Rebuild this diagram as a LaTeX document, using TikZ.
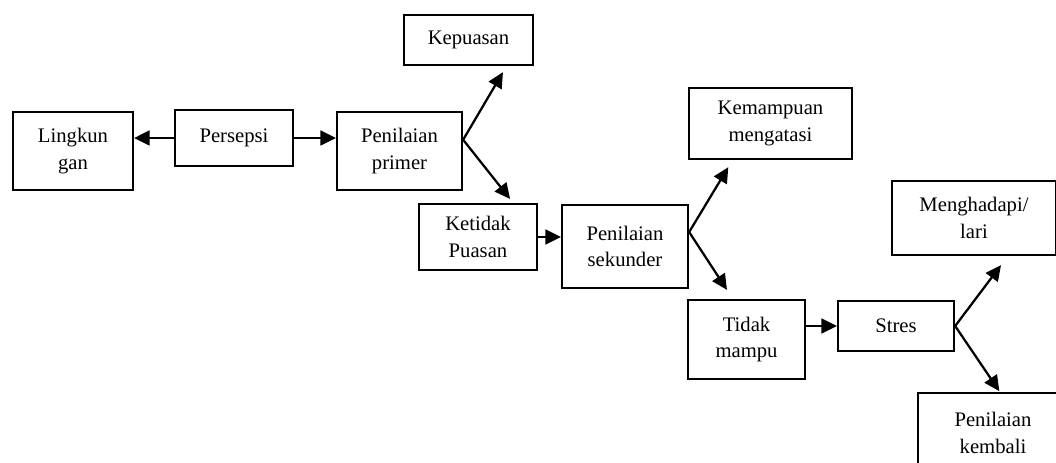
\documentclass[tikz,border=0pt]{standalone}
\usepackage{fontspec}
\setmainfont{Liberation Serif}
\usetikzlibrary{arrows.meta}

\tikzset{
    box/.style={draw, line width=1.6pt, align=center, inner sep=0pt,
        font=\fontsize{14.7}{19}\selectfont},
    arr/.style={-{Triangle[length=11pt,width=10.5pt]}, line width=1.6pt}
}

\begin{document}
\begin{tikzpicture}[x=0.025cm, y=-0.025cm]
    \useasboundingbox (0,0) rectangle (1056,462);
    \clip (0,0) rectangle (1056,462);

    % First the perception and the primary appraisal
    \node[box, minimum width=3.0cm,   minimum height=1.95cm]  (lingkungan) at (73,151)    {Lingkun\\gan};
    \node[box, minimum width=2.95cm,  minimum height=1.4cm]   (persepsi)   at (234,138)   {Persepsi};
    \node[box, minimum width=3.125cm, minimum height=1.95cm]  (pprimer)    at (399.5,151) {Penilaian\\primer};
    \node[box, minimum width=3.225cm, minimum height=1.25cm]  (kepuasan)   at (468.5,40)  {Kepuasan};
    \node[box, minimum width=2.95cm,  minimum height=1.65cm]  (ketidak)    at (478,237)   {Ketidak\\Puasan};

    % Now the secondary appraisal
    \node[box, minimum width=3.15cm,  minimum height=2.075cm] (psekunder)  at (625,246.5) {Penilaian\\sekunder};
    \node[box, minimum width=4.075cm, minimum height=1.775cm] (kemampuan)  at (770.5,123.5) {Kemampuan\\mengatasi};
    \node[box, minimum width=2.925cm, minimum height=1.975cm] (tidak)      at (746.5,339.5) {Tidak\\mampu};

    % Now the stress and what follows
    \node[box, minimum width=2.9cm,   minimum height=1.25cm]  (stres)      at (896,326)   {Stres};
    \node[box, minimum width=4.1cm,   minimum height=1.85cm]  (menghadapi) at (974,218)   {Menghadapi/\\lari};
    \node[box, minimum width=3.75cm,  minimum height=2.0cm]   (pkembali)   at (993,433)   {Penilaian\\kembali};

    % The arrows
    \draw[arr] (persepsi.west) -- (persepsi.west -| lingkungan.east);
    \draw[arr] (persepsi.east) -- (persepsi.east -| pprimer.west);
    \draw[arr] ([yshift=8pt]pprimer.east) -- ([xshift=24.5pt,yshift=-4.3pt]kepuasan.south);
    \draw[arr] ([yshift=8pt]pprimer.east) -- ([xshift=22.8pt,yshift=2.8pt]ketidak.north);
    \draw[arr] (ketidak.east) -- (ketidak.east -| psekunder.west);
    \draw[arr] ([yshift=10.3pt]psekunder.east) -- ([xshift=-30pt,yshift=-5pt]kemampuan.south);
    \draw[arr] ([yshift=10.3pt]psekunder.east) -- ([xshift=-13.9pt,yshift=6.4pt]tidak.north);
    \draw[arr] (tidak.east |- stres.west) -- (stres.west);
    \draw[arr] (stres.east) -- ([xshift=19.2pt,yshift=-6.4pt]menghadapi.south);
    \draw[arr] (stres.east) -- ([xshift=4.5pt,yshift=0.5pt]pkembali.north);

\end{tikzpicture}
\end{document}
